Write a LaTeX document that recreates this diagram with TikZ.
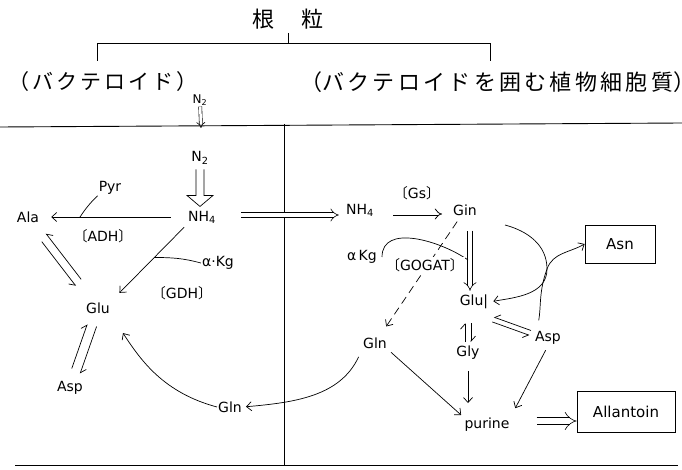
\documentclass[tikz,border=0pt]{standalone}
\usepackage{fontspec}
\setmainfont{DejaVu Sans}
\newfontfamily\jp{Noto Sans CJK JP}
\usetikzlibrary{arrows.meta}
\usetikzlibrary{calc}
\pgfdeclarelayer{edgelayer}
\pgfdeclarelayer{nodelayer}
\pgfsetlayers{edgelayer,nodelayer,main}
\tikzstyle{metabolite}=[inner sep=1pt,font=\fontsize{14}{16}\selectfont]
\tikzstyle{enzyme}=[inner sep=1pt,font=\fontsize{14}{16}\selectfont]
\tikzstyle{product_box}=[draw,line width=0.8pt,minimum width=70pt,minimum height=38pt,font=\fontsize{15}{17}\selectfont]
\tikzstyle{region}=[anchor=west,inner sep=0pt,font=\jp\fontsize{21}{24}\selectfont]
\tikzstyle{frame}=[line width=0.9pt]
\tikzstyle{reaction}=[-{Straight Barb[length=5pt,width=9pt]},line width=0.7pt]
\tikzstyle{half_reaction}=[-{Straight Barb[harpoon,length=5pt,width=9pt]},line width=0.7pt]
\tikzstyle{half_reaction_swap}=[-{Straight Barb[harpoon,swap,length=5pt,width=9pt]},line width=0.7pt]
\tikzstyle{transport}=[double,double distance=4pt,line width=0.6pt,-{Implies}]
\newcommand{\enzbr}[1]{{\jp 〔}#1{\jp 〕}}
\newcommand{\bactgap}{\hspace{3pt}}
\newcommand{\hostgap}{\hspace{3.3pt}}

\begin{document}
\begin{tikzpicture}[x=1pt,y=1pt]
	\useasboundingbox (0,0) rectangle (682,469);
	\begin{pgfonlayer}{nodelayer}
		\node [style=region, anchor=center, font=\jp\fontsize{22}{24}\selectfont] (nodule) at (288,450) {根\hspace{27pt}粒};
		\node [style=region] (bact) at (8,387) {（\bactgap バ\bactgap ク\bactgap テ\bactgap ロ\bactgap イ\bactgap ド\bactgap ）};
		\node [style=region, font=\jp\fontsize{22}{24}\selectfont] (host) at (300,387) {（バ\hostgap ク\hostgap テ\hostgap ロ\hostgap イ\hostgap ド\hostgap を\hostgap 囲\hostgap む\hostgap 植\hostgap 物\hostgap 細\hostgap 胞\hostgap 質）};
		\node [style=metabolite, font=\fontsize{12}{14}\selectfont] (n2top) at (200,369) {N\textsubscript{2}};
		\node [style=metabolite] (n2l) at (200,311) {N\textsubscript{2}};
		\node [style=metabolite] (nh4l) at (202,252) {NH\textsubscript{4}};
		\node [style=metabolite] (pyr) at (110,281) {Pyr};
		\node [style=metabolite] (ala) at (28,252) {Ala};
		\node [style=enzyme] (adh) at (103,233) {\enzbr{ADH}};
		\node [style=metabolite] (akgl) at (218,206) {α·Kg};
		\node [style=enzyme] (gdh) at (182,176) {\enzbr{GDH}};
		\node [style=metabolite] (glul) at (98,161) {Glu};
		\node [style=metabolite] (aspl) at (70,81) {Asp};
		\node [style=metabolite] (glnl) at (230,62) {Gln};
		\node [style=metabolite] (nh4r) at (360,259) {NH\textsubscript{4}};
		\node [style=enzyme] (gs) at (417,276) {\enzbr{Gs}};
		\node [style=metabolite] (ginr) at (465,259) {Gin};
		\node [style=metabolite] (akgr) at (362,212) {α\,Kg};
		\node [style=enzyme, fill=white] (gogat) at (425,204) {\enzbr{GOGAT}};
		\node [style=metabolite] (glur) at (474,167) {Glu|};
		\node [style=metabolite] (glyr) at (468,116) {Gly};
		\node [style=metabolite] (glnr) at (375,126) {Gln};
		\node [style=metabolite] (aspr) at (548,131) {Asp};
		\node [style=metabolite] (purine) at (487,44) {purine};
		\node [style=product_box] (asn) at (620,225) {Asn};
		\node [style=product_box, minimum width=98pt, minimum height=41pt] (allantoin) at (626,57) {Allantoin};
		\coordinate (n2in) at (201,341);
		\coordinate (ja) at (80,252);
		\coordinate (jc) at (468,209);
		\coordinate (asin) at (505,244);
		\coordinate (asx) at (547,200);
	\end{pgfonlayer}
	\begin{pgfonlayer}{edgelayer}
		% nodule bracket and compartments
		\draw [style=frame] (288,436) -- (288,426);
		\draw [style=frame] (97,408) -- (97,426) -- (490,426) -- (490,408);
		\draw [style=frame] (0,342) -- (682,346);
		\draw [style=frame] (284,345) -- (284,4);
		\draw [style=frame] (15,4) -- (678,4);
		% N2 uptake
		\draw [style=transport, double distance=2.5pt] (n2top) -- (n2in);
		\draw [line width=0.7pt, shift={(n2l.south)}] (-4,-4) -- (-4,-30) -- (-13,-30) -- (0,-41) -- (13,-30) -- (4,-30) -- (4,-4);
		% bacteroid
		\draw [style=reaction, shorten <=16pt, shorten >=11pt] (nh4l) -- (ala);
		\draw [line width=0.7pt] (pyr.south west) to[bend right=6] (ja);
		\draw [style=reaction, shorten <=4pt, shorten >=12pt] (nh4l.south west) -- (glul.north east);
		\coordinate (jb) at ($(nh4l.south west)!0.43!(glul.north east)$);
		\draw [line width=0.7pt] (akgl.west) to[out=165,in=0] (jb);
		\draw [style=half_reaction_swap, shorten <=28pt, shorten >=31pt] ([shift={(-3.3,-2.5)}]ala.center) -- ([shift={(-3.3,-2.5)}]glul.center);
		\draw [style=half_reaction_swap, shorten <=33pt, shorten >=24pt] ([shift={(3.3,2.5)}]glul.center) -- ([shift={(3.3,2.5)}]ala.center);
		\draw [style=half_reaction, shorten <=19pt, shorten >=19pt] ([shift={(-4.5,1.6)}]aspl.center) -- ([shift={(-4.5,1.6)}]glul.center);
		\draw [style=half_reaction, shorten <=18pt, shorten >=17pt] ([shift={(4.5,-1.6)}]glul.center) -- ([shift={(4.5,-1.6)}]aspl.center);
		\draw [style=reaction, shorten >=22pt] (glnl.west) to[out=165,in=-57] (glul.south east);
		% host cytoplasm
		\draw [style=transport, shorten <=24pt, shorten >=6pt] ([yshift=-5pt]nh4l.east |- nh4r) -- ([yshift=-5pt]nh4r.west);
		\draw [style=transport, line width=0.8pt, double distance=3pt, shorten <=18pt, shorten >=10pt] ([yshift=-4pt]nh4r.east) -- ([yshift=-4pt]ginr.west);
		\draw [style=transport, shorten <=14pt, shorten >=3pt] ([xshift=5pt]ginr.south) -- ([xshift=5pt]ginr.south |- glur.north);
		\draw [line width=0.7pt] ([xshift=4pt]akgr.east) to[out=90,in=145] (jc);
		\draw [style=reaction, dash pattern=on 8pt off 5pt, shorten <=6pt, shorten >=12pt] (ginr) -- (glnr);
		\draw [style=reaction, shorten <=8pt, shorten >=3pt] (glnr.south west) to[out=-115,in=5] (glnl.east);
		\draw [style=reaction, shorten <=4pt, shorten >=3pt] (glnr.south east) -- (purine.north west);
		\draw [style=reaction, shorten <=10pt, shorten >=14pt] (glyr) -- (glyr |- purine.north);
		\draw [style=reaction, shorten <=5pt, shorten >=10pt] (aspr.south) -- (purine.north east);
		\draw [style=half_reaction_swap, shorten <=4pt, shorten >=4pt] ([shift={(0.8,-1.6)}]aspr.north west) -- ([shift={(0.8,-5.6)}]glur.south east);
		\draw [style=half_reaction_swap, shorten <=4pt, shorten >=4pt] ([shift={(-0.8,-10.4)}]glur.south east) -- ([shift={(-0.8,-6.4)}]aspr.north west);
		\draw [style=half_reaction, shorten <=3pt, shorten >=13pt] ([xshift=-3pt]glyr.north) -- ([xshift=-3pt]glyr.north |- glur.south);
		\draw [style=half_reaction, shorten <=13pt, shorten >=3pt] ([xshift=3pt]glyr.north |- glur.south) -- ([xshift=3pt]glyr.north);
		\draw [style=reaction, shorten >=4pt] (asin) to[out=-15,in=90] (asx) to[out=-90,in=10] (glur.east);
		\draw [style=reaction, shorten <=10pt] ([xshift=-11pt]aspr.north) to[out=80,in=-110] (asx) to[out=70,in=-150] (asn.west);
		\draw [style=transport, double distance=6pt, shorten <=26pt] ([yshift=4pt]purine.east) -- ([yshift=4pt]purine.east -| allantoin.west);
	\end{pgfonlayer}
\end{tikzpicture}
\end{document}
